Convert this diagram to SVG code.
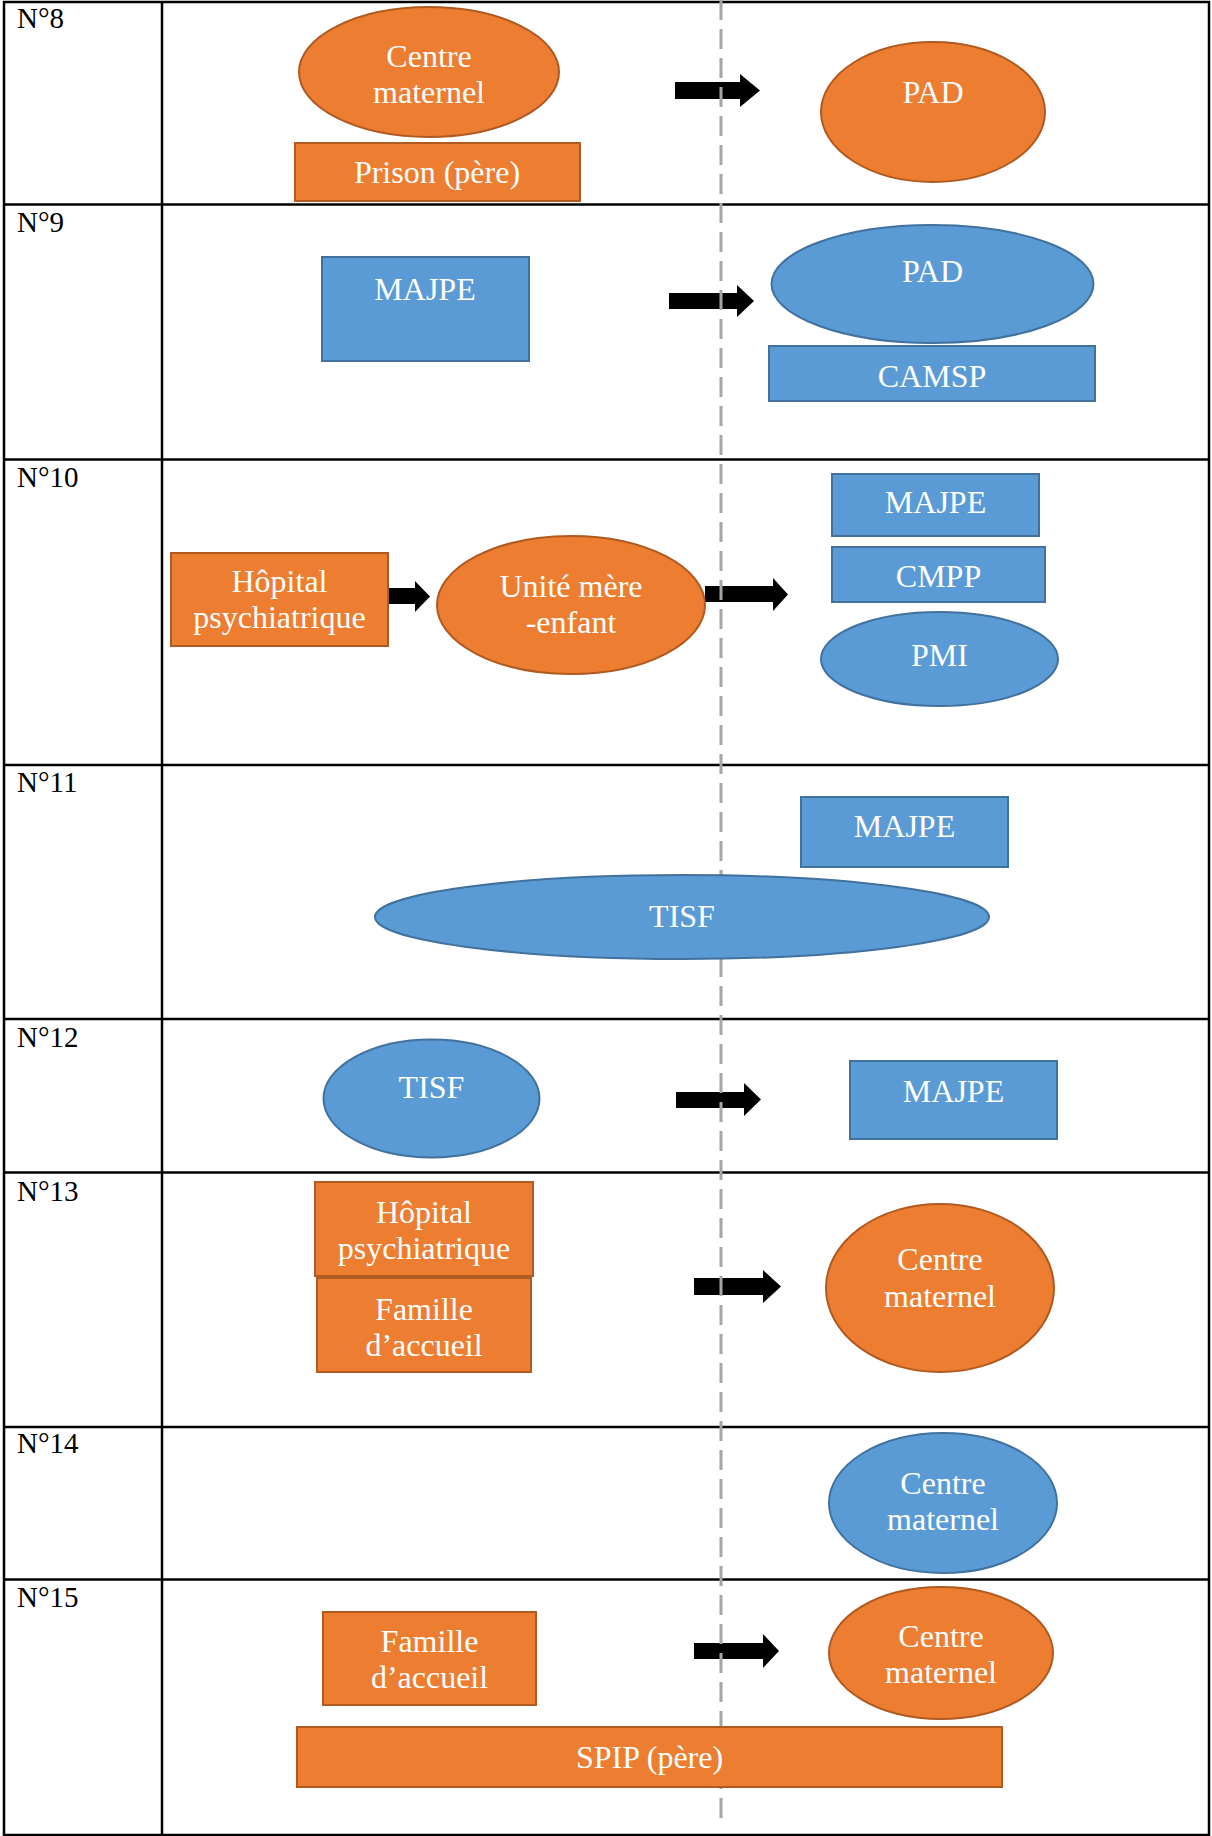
<svg xmlns="http://www.w3.org/2000/svg" width="1212" height="1836" viewBox="0 0 1212 1836">
<style>
.grid{stroke:#000;stroke-width:2.5;fill:none}
.dash{stroke:#a6a6a6;stroke-width:3;stroke-dasharray:20 9;fill:none}
.or{fill:#ED7D31;stroke:#AE5A21;stroke-width:2}
.bl{fill:#5B9BD5;stroke:#41719C;stroke-width:2}
text{font-family:'Liberation Serif','Times New Roman',Times,serif}
.t{font-size:32px;fill:#fff;text-anchor:middle}
.lbl{font-size:29px;fill:#000}
.arr{fill:#000}
</style>
<rect width="1212" height="1836" fill="#fff"/>
<g id="table">
<rect class="grid" x="4" y="2" width="1205" height="1833"/>
<line class="grid" x1="162" y1="2" x2="162" y2="1835"/>
<line class="grid" x1="4" y1="204.5" x2="1209" y2="204.5"/>
<line class="grid" x1="4" y1="459.5" x2="1209" y2="459.5"/>
<line class="grid" x1="4" y1="765" x2="1209" y2="765"/>
<line class="grid" x1="4" y1="1019" x2="1209" y2="1019"/>
<line class="grid" x1="4" y1="1172.5" x2="1209" y2="1172.5"/>
<line class="grid" x1="4" y1="1427" x2="1209" y2="1427"/>
<line class="grid" x1="4" y1="1579.5" x2="1209" y2="1579.5"/>
<text class="lbl" x="17" y="28">N°8</text>
<text class="lbl" x="17" y="232">N°9</text>
<text class="lbl" x="17" y="487">N°10</text>
<text class="lbl" x="17" y="792">N°11</text>
<text class="lbl" x="17" y="1047">N°12</text>
<text class="lbl" x="17" y="1201">N°13</text>
<text class="lbl" x="17" y="1453">N°14</text>
<text class="lbl" x="17" y="1607">N°15</text>
</g>
<g id="connectors">
<path class="arr" d="M675,82 H740 V74 L760,90.5 L740,107 V99 H675 Z"/>
<path class="arr" d="M669,293 H737 V285 L754,301 L737,317 V309 H669 Z"/>
<path class="arr" d="M386,588 H415 V581 L430,596.5 L415,612 V604 H386 Z"/>
<path class="arr" d="M705,586 H773 V578 L788,594.5 L773,611 V602 H705 Z"/>
<path class="arr" d="M676,1092 H744 V1083 L761,1099.5 L744,1116 V1108 H676 Z"/>
<path class="arr" d="M694,1278 H763 V1270 L781,1286.5 L763,1303 V1295 H694 Z"/>
<path class="arr" d="M694,1643 H763 V1634 L779,1651 L763,1668 V1659 H694 Z"/>
</g>
<line id="separator" class="dash" x1="721" y1="0" x2="721" y2="1820"/>
<g id="r8-centre-maternel"><ellipse class="or" cx="429" cy="72" rx="130" ry="65"/><text class="t" x="429" y="67">Centre</text><text class="t" x="429" y="103">maternel</text></g>
<g id="r8-prison"><rect class="or" x="295" y="143" width="285" height="58"/><text class="t" x="437" y="183">Prison (père)</text></g>
<g id="r8-pad"><ellipse class="or" cx="933" cy="112" rx="112" ry="70"/><text class="t" x="933" y="103">PAD</text></g>
<g id="r9-majpe"><rect class="bl" x="322" y="257" width="207" height="104"/><text class="t" x="425" y="300">MAJPE</text></g>
<g id="r9-pad"><ellipse class="bl" cx="932.5" cy="284" rx="161" ry="59"/><text class="t" x="932.5" y="282">PAD</text></g>
<g id="r9-camsp"><rect class="bl" x="769" y="346" width="326" height="55"/><text class="t" x="932" y="387">CAMSP</text></g>
<g id="r10-hopital"><rect class="or" x="171" y="553" width="217" height="93"/><text class="t" x="279.5" y="592">Hôpital</text><text class="t" x="279.5" y="628">psychiatrique</text></g>
<g id="r10-unite"><ellipse class="or" cx="571" cy="605" rx="134" ry="69"/><text class="t" x="571" y="597">Unité mère</text><text class="t" x="571" y="633">-enfant</text></g>
<g id="r10-majpe"><rect class="bl" x="832" y="474" width="207" height="62"/><text class="t" x="935.5" y="513">MAJPE</text></g>
<g id="r10-cmpp"><rect class="bl" x="832" y="547" width="213" height="55"/><text class="t" x="938.5" y="587">CMPP</text></g>
<g id="r10-pmi"><ellipse class="bl" cx="939.5" cy="659" rx="118.5" ry="47"/><text class="t" x="939.5" y="666">PMI</text></g>
<g id="r11-majpe"><rect class="bl" x="801" y="797" width="207" height="70"/><text class="t" x="904.5" y="837">MAJPE</text></g>
<g id="r11-tisf"><ellipse class="bl" cx="682" cy="917" rx="307" ry="42"/><text class="t" x="682" y="927">TISF</text></g>
<g id="r12-tisf"><ellipse class="bl" cx="431.5" cy="1098.5" rx="108" ry="59"/><text class="t" x="431.5" y="1098">TISF</text></g>
<g id="r12-majpe"><rect class="bl" x="850" y="1061" width="207" height="78"/><text class="t" x="953.5" y="1102">MAJPE</text></g>
<g id="r13-hopital"><rect class="or" x="315" y="1182" width="218" height="94"/><text class="t" x="424" y="1223">Hôpital</text><text class="t" x="424" y="1259">psychiatrique</text></g>
<g id="r13-famille"><rect class="or" x="317" y="1278" width="214" height="94"/><text class="t" x="424" y="1320">Famille</text><text class="t" x="424" y="1356">d’accueil</text></g>
<g id="r13-centre"><ellipse class="or" cx="940" cy="1288" rx="114" ry="84"/><text class="t" x="940" y="1270">Centre</text><text class="t" x="940" y="1307">maternel</text></g>
<g id="r14-centre"><ellipse class="bl" cx="943" cy="1503" rx="114" ry="70"/><text class="t" x="943" y="1494">Centre</text><text class="t" x="943" y="1530">maternel</text></g>
<g id="r15-famille"><rect class="or" x="323" y="1612" width="213" height="93"/><text class="t" x="429.5" y="1652">Famille</text><text class="t" x="429.5" y="1688">d’accueil</text></g>
<g id="r15-centre"><ellipse class="or" cx="941" cy="1653" rx="112" ry="66"/><text class="t" x="941" y="1647">Centre</text><text class="t" x="941" y="1683">maternel</text></g>
<g id="r15-spip"><rect class="or" x="297" y="1727" width="705" height="60"/><text class="t" x="649.5" y="1768">SPIP (père)</text></g>
</svg>
